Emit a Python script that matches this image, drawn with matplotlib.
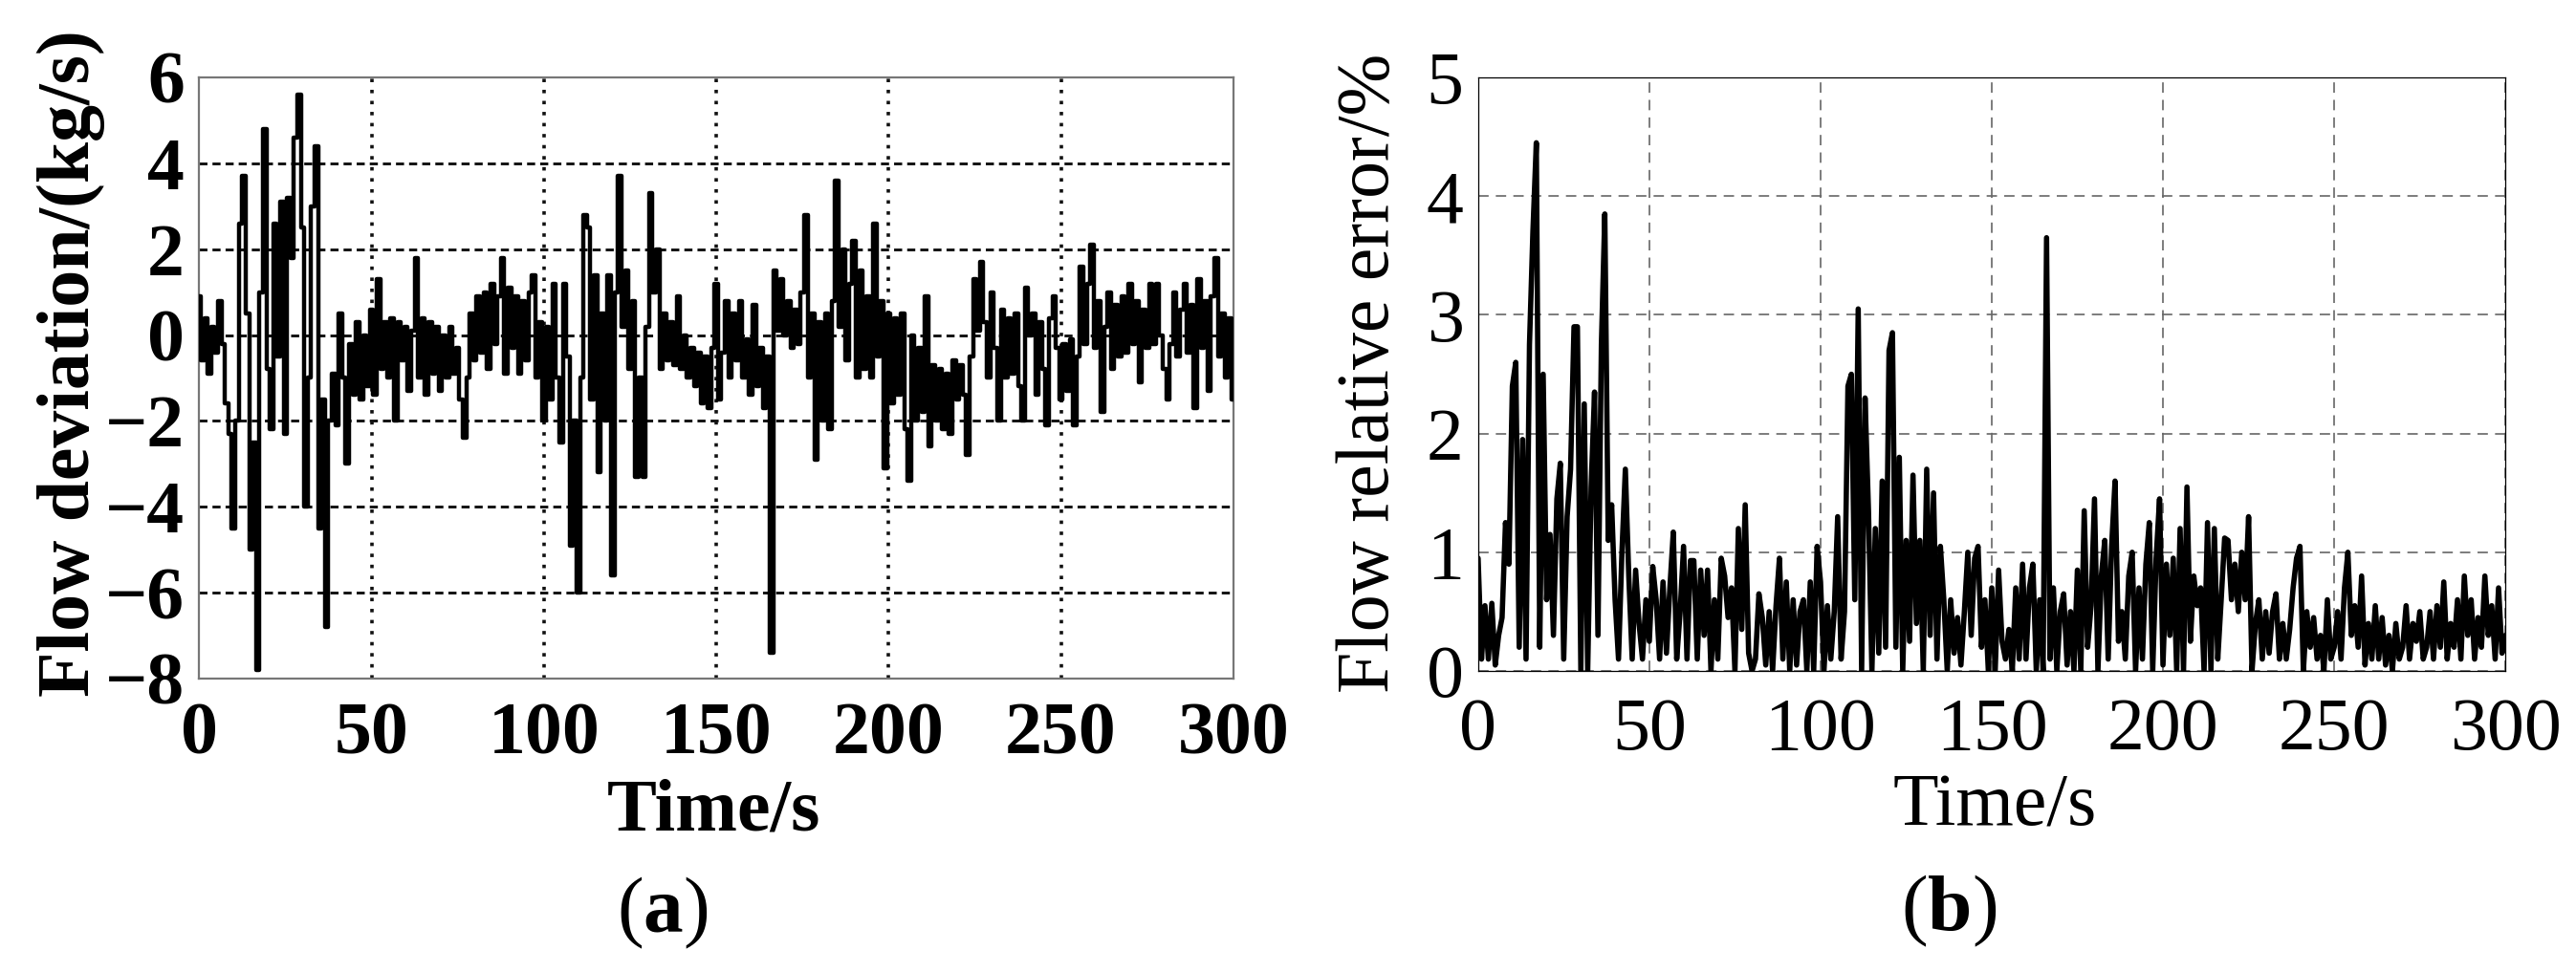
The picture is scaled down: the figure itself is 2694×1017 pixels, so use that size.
import numpy as np
import matplotlib
matplotlib.use('Agg')
import matplotlib.pyplot as plt

# ================== DATA ==================
# (a) flow deviation, kg/s, one reading per second from 0 to 300 s
TIME_A = np.arange(0, 301)
FLOW_DEV = [
    0.9, -0.6, 0.4, -0.9, 0.2, -0.4, 0.8, -0.2, -1.6, -2.3,
    -4.5, -2.0, 2.6, 3.7, 0.5, -5.0, -2.5, -7.8, 1.0, 4.8,
    -0.8, -2.2, 2.6, -0.5, 3.1, -2.3, 3.2, 1.8, 4.6, 5.6,
    2.5, -4.0, -1.0, 3.0, 4.4, -4.5, -1.5, -6.8, -2.0, -0.9,
    -2.1, 0.5, -1.0, -3.0, -0.2, -1.4, 0.3, -1.5, 0.0, -1.2,
    0.6, -1.4, 1.3, -0.8, 0.3, -1.0, 0.4, -2.0, 0.3, -0.6,
    0.2, -1.3, 0.1, 1.8, -1.0, 0.4, -1.4, 0.3, -0.9, 0.2,
    -1.3, 0.0, -1.0, 0.2, -0.9, -0.3, -1.5, -2.4, -1.0, 0.5,
    -0.6, 0.9, -0.4, 1.0, -0.8, 1.2, -0.2, 0.9, 1.8, -0.9,
    1.1, -0.3, 0.9, -0.9, 0.8, -0.6, 1.0, 1.4, -1.0, 0.3,
    -2.0, 0.2, -1.5, 1.2, -1.0, -2.5, 1.2, -0.5, -4.9, -2.0,
    -6.0, -1.0, 2.8, 2.5, -1.5, 1.4, -3.2, 0.5, -2.0, 1.4,
    -5.6, 1.0, 3.7, 0.2, 1.5, -0.8, 0.8, -3.3, -1.0, -3.3,
    0.2, 3.3, 1.0, 2.0, -0.8, 0.5, -0.6, 0.3, -0.7, 0.9,
    -0.8, 0.0, -1.0, -0.3, -1.2, -0.4, -1.6, -0.5, -1.7, -0.3,
    1.2, -1.5, -0.4, 0.8, -1.0, 0.5, -0.6, 0.8, -1.0, -0.1,
    -1.4, 0.7, -1.2, -0.3, -1.7, -0.5, -7.4, 1.5, 0.1, 1.3,
    0.0, 0.8, -0.3, 0.6, -0.2, 1.0, 2.8, -1.0, 0.5, -2.9,
    0.3, -2.0, 0.5, -2.2, 0.8, 3.6, 0.2, 2.0, -0.6, 1.2,
    2.2, -1.0, 1.5, -0.8, 0.9, -1.0, 2.6, -0.5, 0.8, -3.1,
    0.5, -1.6, 0.4, -1.4, 0.5, -2.2, -3.4, 0.0, -2.0, -0.3,
    -1.8, 0.9, -2.6, -0.7, -2.0, -0.8, -2.2, -0.9, -2.3, -0.6,
    -1.5, -0.7, -1.4, -2.8, -0.5, 1.3, 0.1, 1.7, 0.3, -1.0,
    1.0, -0.3, -2.0, 0.6, -1.0, 0.4, -0.9, 0.5, -1.2, -2.0,
    1.1, 0.0, 0.5, -1.4, 0.3, -0.8, -2.1, 0.4, 0.9, -0.3,
    -1.5, -0.2, -1.3, -0.1, -2.1, -0.5, 1.6, -0.2, 1.2, 2.1,
    -0.3, 0.8, -1.8, 0.2, 1.0, -0.8, 0.7, -0.5, 0.9, -0.4,
    1.2, -0.2, 0.8, -1.1, 0.6, -0.3, 1.2, -0.2, 1.2, 0.0,
    -0.8, -1.5, -0.2, 1.0, -0.5, 0.6, 1.2, -0.4, 0.7, -1.7,
    1.3, -0.3, 0.8, -1.3, 0.9, 1.8, -0.5, 0.5, -1.0, 0.4,
    -1.5,
]

# (b) flow relative error, %, one reading per second from 0 to 300 s
TIME_B = np.arange(0, 301)
REL_ERR = [
    0.95, 0.1, 0.55, 0.1, 0.57, 0.05, 0.3, 0.45, 1.25, 0.9,
    2.4, 2.6, 0.2, 1.95, 0.1, 2.75, 3.7, 4.45, 0.2, 2.5,
    0.6, 1.15, 0.3, 1.45, 1.75, 0.1, 1.3, 1.7, 2.9, 2.9,
    0.0, 2.25, 0.0, 1.55, 2.35, 0.3, 2.75, 3.85, 1.1, 1.4,
    0.6, 0.1, 1.0, 1.7, 0.8, 0.1, 0.85, 0.4, 0.1, 0.6,
    0.25, 0.88, 0.6, 0.1, 0.75, 0.15, 0.7, 1.17, 0.1, 0.5,
    1.05, 0.1, 0.93, 0.93, 0.1, 0.85, 0.3, 0.85, 0.0, 0.6,
    0.1, 0.95, 0.8, 0.45, 0.7, 0.0, 1.2, 0.35, 1.4, 0.15,
    0.0, 0.1, 0.65, 0.45, 0.05, 0.5, 0.0, 0.55, 0.95, 0.1,
    0.75, 0.0, 0.6, 0.05, 0.5, 0.6, 0.0, 0.75, 0.0, 1.05,
    0.75, 0.0, 0.55, 0.1, 0.5, 1.3, 0.1, 0.5, 2.4, 2.5,
    0.6, 3.05, 0.0, 2.3, 1.35, 0.0, 1.2, 0.15, 1.6, 0.2,
    2.7, 2.85, 0.2, 1.8, 0.0, 1.1, 0.25, 1.65, 0.4, 1.1,
    0.0, 1.7, 0.3, 1.5, 0.1, 1.05, 0.6, 0.0, 0.6, 0.15,
    0.45, 0.05, 0.5, 1.0, 0.3, 0.95, 1.05, 0.2, 0.6, 0.0,
    0.7, 0.0, 0.85, 0.25, 0.1, 0.35, 0.0, 0.7, 0.1, 0.9,
    0.1, 0.7, 0.9, 0.0, 0.6, 0.0, 3.65, 0.1, 0.7, 0.0,
    0.5, 0.65, 0.05, 0.5, 0.0, 0.85, 0.0, 1.35, 0.2, 0.55,
    1.45, 0.0, 0.8, 1.1, 0.1, 1.05, 1.6, 0.25, 0.5, 0.1,
    0.8, 1.0, 0.0, 0.7, 0.1, 0.9, 1.25, 0.0, 0.95, 1.45,
    0.05, 0.9, 0.3, 0.95, 0.0, 1.2, 0.0, 1.55, 0.25, 0.8,
    0.55, 0.7, 0.0, 1.25, 0.0, 1.2, 0.1, 0.6, 1.12, 1.1,
    0.6, 0.9, 0.5, 1.0, 0.6, 1.3, 0.0, 0.4, 0.6, 0.1,
    0.5, 0.15, 0.5, 0.65, 0.1, 0.4, 0.1, 0.35, 0.7, 0.95,
    1.05, 0.0, 0.5, 0.2, 0.45, 0.1, 0.3, 0.0, 0.6, 0.1,
    0.2, 0.5, 0.1, 0.7, 1.0, 0.3, 0.55, 0.2, 0.8, 0.05,
    0.4, 0.1, 0.55, 0.1, 0.45, 0.05, 0.3, 0.0, 0.4, 0.1,
    0.2, 0.55, 0.1, 0.4, 0.25, 0.5, 0.1, 0.2, 0.5, 0.1,
    0.55, 0.2, 0.75, 0.1, 0.4, 0.2, 0.6, 0.1, 0.8, 0.3,
    0.6, 0.1, 0.45, 0.2, 0.8, 0.3, 0.55, 0.1, 0.7, 0.15,
    0.3,
]

X_TICKS = [0, 50, 100, 150, 200, 250, 300]
Y_TICKS_A = [-8, -6, -4, -2, 0, 2, 4, 6]
Y_TICKS_B = [0, 1, 2, 3, 4, 5]

SERIF = 'Liberation Serif'
FS = 56

plt.rcParams['mathtext.fontset'] = 'custom'
plt.rcParams['mathtext.rm'] = SERIF
plt.rcParams['mathtext.bf'] = SERIF + ':bold'

fig = plt.figure(figsize=(26.94, 10.17), dpi=100)

# ================== PANEL (a) ==================
ax1 = fig.add_axes([0.0773, 0.3019, 0.4015, 0.6185])
ax1.plot(TIME_A, FLOW_DEV, color='black', lw=3.2, zorder=3,
         drawstyle='steps-mid')
ax1.set_xlim(0, 300)
ax1.set_ylim(-8, 6)
ax1.set_xticks(X_TICKS)
ax1.set_yticks(Y_TICKS_A)
for y in Y_TICKS_A[1:-1]:
    ax1.axhline(y, color='#111111', lw=2.1, dashes=(2.9, 1.8), zorder=1)
for x in X_TICKS[1:-1]:
    ax1.axvline(x, color='#111111', lw=2.6, dashes=(1.0, 2.2), zorder=1)
ax1.tick_params(length=0, labelsize=FS)
ax1.tick_params(axis='x', pad=18)
ax1.tick_params(axis='y', pad=11)
for lab in ax1.get_xticklabels() + ax1.get_yticklabels():
    lab.set_fontfamily(SERIF)
    lab.set_fontweight('bold')
for sp in ax1.spines.values():
    sp.set_color('#777777')
    sp.set_linewidth(1.6)
fig.text(0.0345, 0.6263, 'Flow deviation/(kg/s)', rotation=90,
         rotation_mode='anchor', ha='center', va='baseline',
         fontsize=FS, fontfamily=SERIF, fontweight='bold')
fig.text(0.2771, 0.1465, 'Time/s', ha='center', va='baseline',
         fontsize=FS, fontfamily=SERIF, fontweight='bold')

# ================== PANEL (b) ==================
ax2 = fig.add_axes([0.5738, 0.3097, 0.3988, 0.6106])
ax2.plot(TIME_B, REL_ERR, color='black', lw=4.0, zorder=3,
         solid_joinstyle='round', solid_capstyle='round')
ax2.set_xlim(0, 300)
ax2.set_ylim(0, 5)
ax2.set_xticks(X_TICKS)
ax2.set_yticks(Y_TICKS_B)
ax2.grid(True, color='#666666', lw=1.2, dashes=(6.5, 4.5), zorder=1)
ax2.set_axisbelow(True)
ax2.tick_params(length=0, labelsize=FS)
ax2.tick_params(axis='x', pad=20)
ax2.tick_params(axis='y', pad=11)
for lab in ax2.get_xticklabels() + ax2.get_yticklabels():
    lab.set_fontfamily(SERIF)
for sp in ax2.spines.values():
    sp.set_color('black')
    sp.set_linewidth(0.9)
fig.text(0.539, 0.6165, 'Flow relative error/%', rotation=90,
         rotation_mode='anchor', ha='center', va='baseline',
         fontsize=FS, fontfamily=SERIF)
fig.text(0.7743, 0.1514, 'Time/s', ha='center', va='baseline',
         fontsize=FS, fontfamily=SERIF)

# ================== SUBPLOT TAGS ==================
fig.text(0.2571, 0.061, r'($\mathbf{a}$)', ha='center', va='center',
         fontsize=60, fontfamily=SERIF)
fig.text(0.7565, 0.063, r'($\mathbf{b}$)', ha='center', va='center',
         fontsize=60, fontfamily=SERIF)

fig.savefig('out.png', dpi=100, facecolor='white')
